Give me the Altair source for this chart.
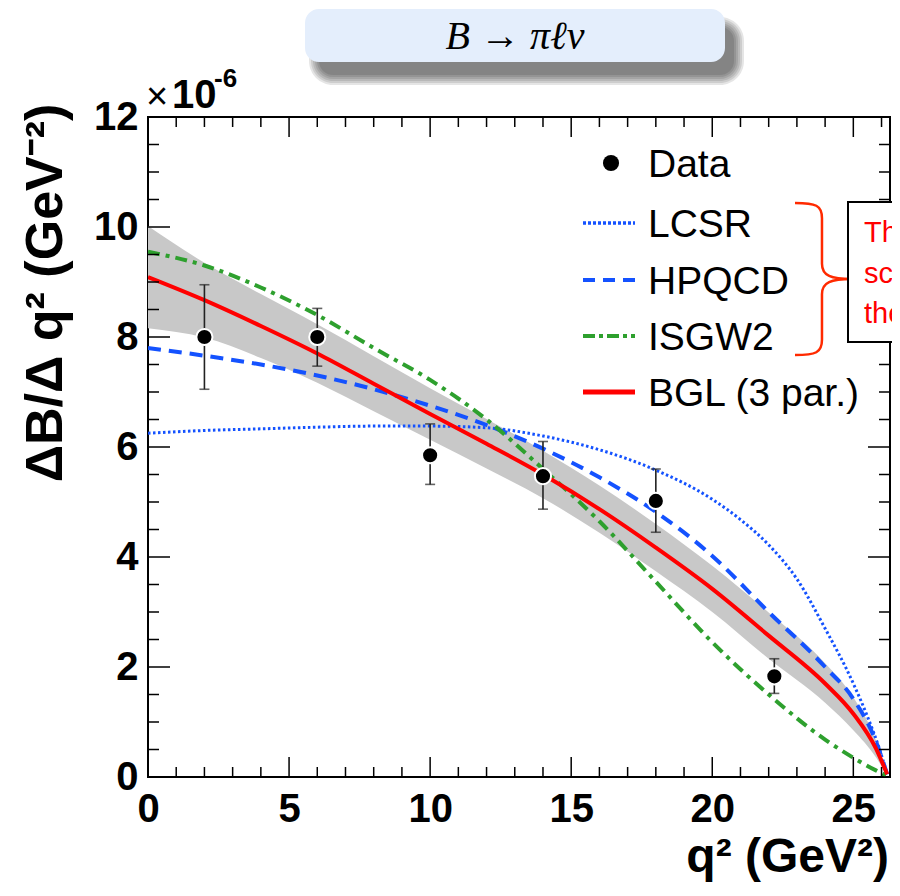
import altair as alt
import pandas as pd

# ---------------- data (units of 1e-6 GeV^-2) ----------------
data_q2 = [2.0, 6.0, 10.0, 14.0, 18.0, 22.2]
data_val = [8.00, 8.00, 5.85, 5.47, 5.02, 1.83]
data_lo = [7.05, 7.47, 5.32, 4.87, 4.45, 1.52]
data_hi = [8.95, 8.52, 6.42, 6.10, 5.60, 2.15]

q2_grid = [0, 2, 4, 6, 8, 10, 12, 14, 16, 18, 20, 22, 24, 25, 25.8, 26.2]
bgl = [9.09, 8.67, 8.20, 7.70, 7.15, 6.60, 6.06, 5.50, 4.87, 4.17, 3.42, 2.57, 1.70, 1.15, 0.52, 0.05]
bgl_upper = [10.02, 9.35, 8.78, 8.23, 7.65, 7.07, 6.51, 5.93, 5.30, 4.60, 3.84, 2.99, 2.07, 1.45, 0.67, 0.06]
bgl_lower = [8.16, 7.99, 7.62, 7.17, 6.65, 6.13, 5.61, 5.07, 4.44, 3.74, 3.00, 2.15, 1.35, 0.85, 0.36, 0.02]
hpqcd = [7.80, 7.66, 7.50, 7.30, 7.05, 6.75, 6.40, 5.97, 5.45, 4.82, 4.02, 3.00, 2.00, 1.42, 0.65, 0.05]
isgw2 = [9.55, 9.30, 8.90, 8.40, 7.80, 7.22, 6.50, 5.60, 4.65, 3.55, 2.45, 1.50, 0.68, 0.35, 0.12, 0.02]
lcsr_q2 = [0, 2, 4, 6, 8, 10, 12, 14, 16, 18, 20, 21, 22, 23, 24, 25, 25.5, 25.9, 26.2]
lcsr = [6.25, 6.30, 6.33, 6.36, 6.38, 6.38, 6.35, 6.20, 5.95, 5.58, 5.05, 4.68, 4.22, 3.60, 2.70, 1.70, 1.10, 0.55, 0.05]

x_labels = [0, 5, 10, 15, 20, 25]
y_labels = [0, 2, 4, 6, 8, 10, 12]
x_major_ticks = [0, 5, 10, 15, 20, 25]
x_minor_ticks = [1, 2, 3, 4, 6, 7, 8, 9, 11, 12, 13, 14, 16, 17, 18, 19, 21, 22, 23, 24, 26]
y_major_ticks = [0, 2, 4, 6, 8, 10, 12]
y_minor_ticks = [0.5, 1, 1.5, 2.5, 3, 3.5, 4.5, 5, 5.5, 6.5, 7, 7.5, 8.5, 9, 9.5, 10.5, 11, 11.5]

legend_labels = ["Data", "LCSR", "HPQCD", "ISGW2", "BGL (3 par.)"]
box_lines = ["The", "sca", "the"]
title_text = "B \u2192 \u03c0\u2113\u03bd"
y_title = "\u0394B/\u0394 q\u00b2 (GeV\u207b\u00b2)"
x_title = "q\u00b2 (GeV\u00b2)"

# ---------------- styling ----------------
W, H = 742, 660
FONT = "Liberation Sans"
BLUE = "#1452ff"
GREEN = "#2ea02e"
RED = "#ff0000"
BAND = "#c8c8c8"

xs = alt.Scale(domain=[0, 26.3], nice=False, zero=False)
ys = alt.Scale(domain=[0, 12], nice=False, zero=False)
xax = alt.Axis(values=x_labels, title=None, grid=False, domain=False, ticks=False,
               labelFont=FONT, labelFontWeight="bold", labelFontSize=40, labelColor="black",
               labelPadding=12, labelFlush=False, labelOverlap=False)
yax = alt.Axis(values=y_labels, title=None, grid=False, domain=False, ticks=False,
               labelFont=FONT, labelFontWeight="bold", labelFontSize=40, labelColor="black",
               labelPadding=10, labelFlush=False, labelOverlap=False)

curves = pd.DataFrame({"q2": q2_grid, "bgl": bgl, "up": bgl_upper, "lo": bgl_lower,
                       "hpqcd": hpqcd, "isgw2": isgw2})
lc = pd.DataFrame({"q2": lcsr_q2, "lcsr": lcsr})
pts = pd.DataFrame({"q2": data_q2, "v": data_val, "lo": data_lo, "hi": data_hi})

X = alt.X("q2:Q", scale=xs, axis=xax)

band = alt.Chart(curves).mark_area(color=BAND, opacity=1, interpolate="monotone").encode(
    x=X, y=alt.Y("lo:Q", scale=ys, axis=yax), y2="up:Q")


def line(df, field, color, width, dash=None):
    kw = dict(color=color, strokeWidth=width, interpolate="monotone", clip=True)
    if dash:
        kw["strokeDash"] = dash
    return alt.Chart(df).mark_line(**kw).encode(x=X, y=alt.Y(f"{field}:Q", scale=ys, axis=yax))


l_lcsr = line(lc, "lcsr", BLUE, 3, [2.5, 2.5])
l_hpq = line(curves, "hpqcd", BLUE, 4, [13, 8])
l_isg = line(curves, "isgw2", GREEN, 4, [12, 6, 4, 6])
l_bgl = line(curves, "bgl", RED, 4)

err = alt.Chart(pts).mark_rule(color="#222", strokeWidth=1.6).encode(
    x=X, y=alt.Y("lo:Q", scale=ys, axis=yax), y2="hi:Q")
cap_lo = alt.Chart(pts).mark_tick(orient="horizontal", size=10, thickness=1.6, color="#222").encode(
    x=X, y=alt.Y("lo:Q", scale=ys, axis=yax))
cap_hi = alt.Chart(pts).mark_tick(orient="horizontal", size=10, thickness=1.6, color="#222").encode(
    x=X, y=alt.Y("hi:Q", scale=ys, axis=yax))
dots = alt.Chart(pts).mark_circle(size=260, color="black", opacity=1, stroke="white", strokeWidth=2).encode(
    x=X, y=alt.Y("v:Q", scale=ys, axis=yax))

# ---------------- inner ticks (ROOT style) ----------------
tick_layers = []
for vals, ln in ((x_major_ticks, 20), (x_minor_ticks, 10)):
    d = pd.DataFrame({"q2": vals})
    for y0, y1 in ((H, H - ln), (0, ln)):
        tick_layers.append(alt.Chart(d).mark_rule(color="black", strokeWidth=1.5).encode(
            x=X, y=alt.value(y0), y2=alt.value(y1)))
for vals, ln in ((y_major_ticks, 22), (y_minor_ticks, 11)):
    d = pd.DataFrame({"yv": vals})
    for x0, x1 in ((0, ln), (W, W - ln)):
        tick_layers.append(alt.Chart(d).mark_rule(color="black", strokeWidth=1.5).encode(
            y=alt.Y("yv:Q", scale=ys, axis=yax), x=alt.value(x0), x2=alt.value(x1)))

one = pd.DataFrame({"a": [0]})


def txt(s, x, y, size, **kw):
    base = dict(text=s, font=FONT, fontSize=size, color="black", align="left", baseline="middle")
    base.update(kw)
    return alt.Chart(one).mark_text(**base).encode(x=alt.value(x), y=alt.value(y))


# ---------------- legend ----------------
leg = []
leg.append(alt.Chart(one).mark_circle(size=260, color="black", opacity=1).encode(
    x=alt.value(463), y=alt.value(46)))
leg_styles = [(BLUE, 3.5, [3, 2]), (BLUE, 4, [12, 8]), (GREEN, 4, [12, 4, 4, 4]), (RED, 5, None)]
leg_y = [46, 106, 163, 219, 275]
for (c, w, d), yy in zip(leg_styles, leg_y[1:]):
    kw = dict(color=c, strokeWidth=w)
    if d:
        kw["strokeDash"] = d
    leg.append(alt.Chart(one).mark_rule(**kw).encode(
        x=alt.value(435), x2=alt.value(487), y=alt.value(yy)))
for lab, yy in zip(legend_labels, leg_y):
    leg.append(txt(lab, 500, yy + 2, 39))

# ---------------- red bracket and clipped box ----------------
brace_path = ("M -0.375 -1 C -0.1 -1 -0.02 -0.97 -0.02 -0.8 L -0.02 -0.2 "
              "C -0.02 -0.04 0.1 0 0.375 0 C 0.1 0 -0.02 0.04 -0.02 0.2 "
              "L -0.02 0.8 C -0.02 0.97 -0.1 1 -0.375 1")
brace = alt.Chart(one).mark_point(shape=brace_path, filled=False, color="#ff2a00", opacity=1,
                                  strokeWidth=2.5, size=23104).encode(
    x=alt.value(675.5), y=alt.value(162))
rbox = alt.Chart(one).mark_rect(fill="white", stroke="black", strokeWidth=2).encode(
    x=alt.value(700), x2=alt.value(790), y=alt.value(85), y2=alt.value(225))
box_txt = [txt(s, 716, yy, 29, color="#ff0000") for s, yy in zip(box_lines, [116, 157, 197])]

# ---------------- title box with shadow ----------------
shadow = []
for i in range(6):
    e = i * 2
    shadow.append(alt.Chart(one).mark_rect(color="#000000", opacity=0.1, cornerRadius=14 + e).encode(
        x=alt.value(165 - e + 6), x2=alt.value(586 + e),
        y=alt.value(-96 - e + 6), y2=alt.value(-42 + e)))
tbox = alt.Chart(one).mark_rect(color="#e4eefc", cornerRadius=14).encode(
    x=alt.value(157), x2=alt.value(577), y=alt.value(-108), y2=alt.value(-55))
ttxt = txt(title_text, 367, -80, 40, font="Liberation Serif", fontStyle="italic", align="center")

# ---------------- axis decorations ----------------
exp_txt = [
    txt("\u00d7", -2, -19, 38),
    txt("10", 24, -21, 40, fontWeight="bold"),
    txt("-6", 66, -38, 26, fontWeight="bold"),
]
ytitle = alt.Chart(one).mark_text(text=y_title, font=FONT, fontSize=52, fontWeight="bold",
                                  color="black", angle=270, align="center", baseline="middle").encode(
    x=alt.value(-102), y=alt.value(176))
xtitle = txt(x_title, 741, 755, 48, fontWeight="bold", align="right", baseline="alphabetic")

layers = ([band, l_lcsr, l_hpq, l_isg, l_bgl, err, cap_lo, cap_hi, dots] + tick_layers + leg +
          [brace, rbox] + box_txt + shadow + [tbox, ttxt] + exp_txt + [ytitle, xtitle])

chart = alt.layer(*layers).properties(
    width=W, height=H,
    autosize=alt.AutoSizeParams(type="none"),
    padding={"left": 140, "top": 109, "right": 2, "bottom": 106},
    background="white",
).configure_view(stroke="black", strokeWidth=2)

chart.save("out.html", embed_options={"renderer": "svg", "actions": False})
